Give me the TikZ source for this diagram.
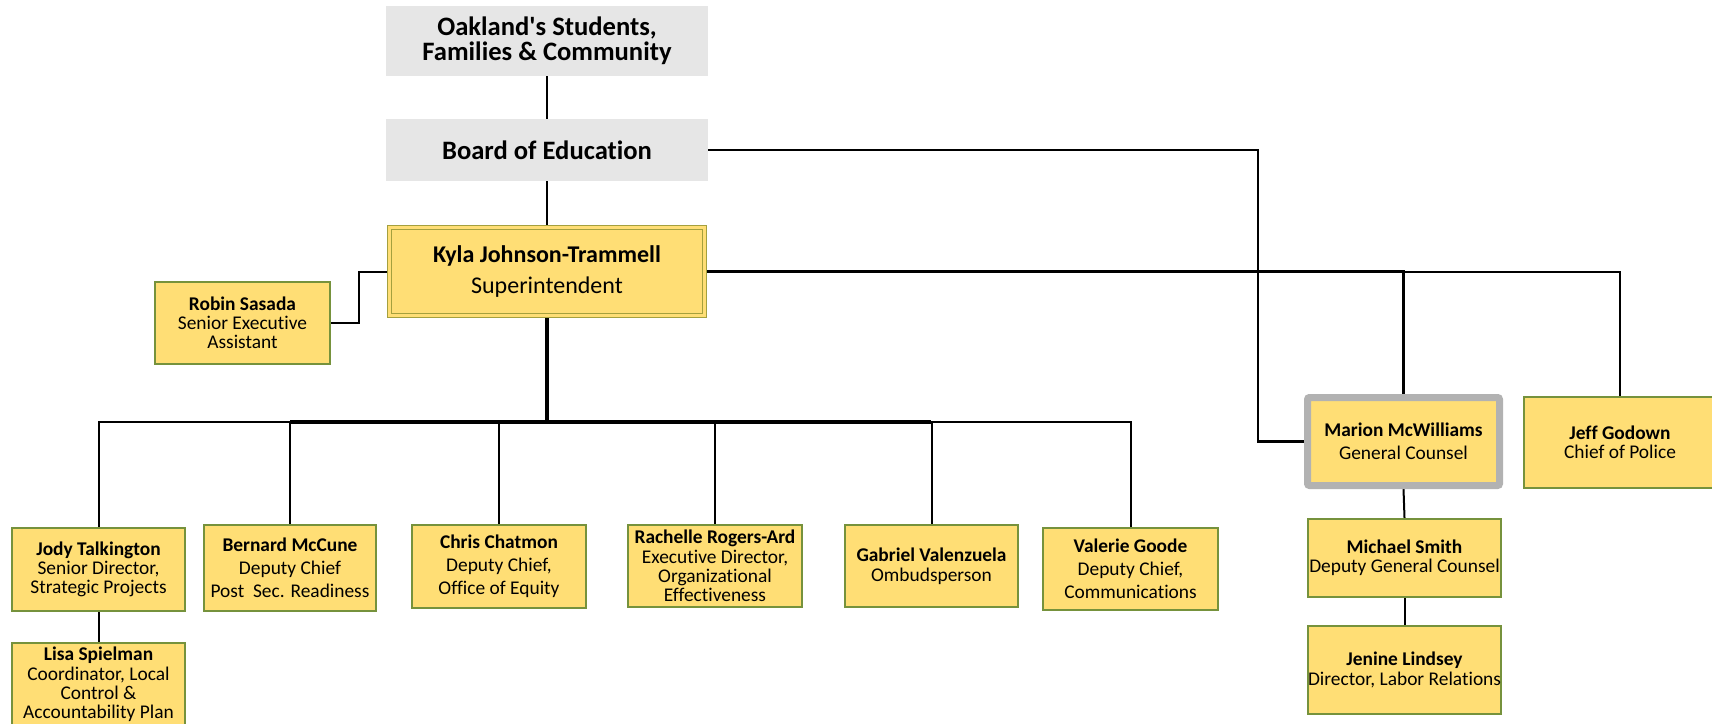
\documentclass[tikz,border=0pt]{standalone}
\usepackage{fontspec}
\setmainfont{Carlito}[Ligatures={TeXOff,NoCommon}]
\usetikzlibrary{calc,backgrounds}
\definecolor{boxfill}{RGB}{255,222,117}
\definecolor{boxline}{RGB}{118,146,60}
\definecolor{hdrfill}{RGB}{230,230,230}
\definecolor{supline}{RGB}{165,160,62}
\definecolor{gcline}{RGB}{178,178,178}
\begin{document}
\begin{tikzpicture}[x=0.5pt,y=-0.5pt,
  hdr/.style={fill=hdrfill, inner sep=0pt, align=center, font=\fontsize{13.3}{12.5}\selectfont\bfseries},
  pbox/.style={fill=boxfill, draw=boxline, line width=1pt, inner sep=0pt, align=center, font=\fontsize{9.7}{9.6}\selectfont},
  supbox/.style={fill=boxfill, draw=supline, line width=0.5pt, double=boxfill, double distance=1.5pt, inner sep=0pt, align=center, font=\fontsize{12}{14.5}\selectfont},
  gcbox/.style={fill=boxfill, draw=gcline, line width=3.5pt, rounded corners=1pt, inner sep=0pt, align=center, font=\fontsize{9.7}{11.5}\selectfont},
  conn/.style={draw=black, line width=1pt},
  thickconn/.style={draw=black, line width=1.75pt},
]
\useasboundingbox (0,0) rectangle (1712,723);

% header boxes
\node[hdr, minimum width=161pt, minimum height=35pt] (oak) at (547,41) {Oakland's Students,\\Families \& Community};
\node[hdr, minimum width=161pt, minimum height=31pt] (board) at (547,150) {Board of Education};

% superintendent
\node[supbox, minimum width=157.5pt, minimum height=44pt] (supt) at (547,271.5) {\textbf{Kyla Johnson-Trammell}\\\raisebox{-1pt}{Superintendent}};

% assistant
\node[pbox, minimum width=87.5pt, minimum height=41pt] (robin) at (242.5,323) {\textbf{Robin Sasada}\\Senior Executive\\Assistant};

% direct reports row
\node[pbox, minimum width=86.5pt, minimum height=41.5pt] (jody) at (98.5,569.5) {\textbf{Jody Talkington}\\Senior Director,\\Strategic Projects};
\node[pbox, minimum width=86pt, minimum height=43pt] (bernard) at (290,568) {\textbf{Bernard McCune}\\[2pt]Deputy Chief\\[2pt]Post\ \ Sec. Readiness};
\node[pbox, minimum width=87pt, minimum height=41.5pt] (chris) at (499,566.5) {\textbf{Chris Chatmon}\\[1.8pt]Deputy Chief,\\[1.8pt]Office of Equity};
\node[pbox, minimum width=87pt, minimum height=41pt] (rachelle) at (715,566) {\textbf{Rachelle Rogers-Ard}\\Executive Director,\\Organizational\\Effectiveness};
\node[pbox, minimum width=86.5pt, minimum height=41pt] (gabriel) at (931.5,566) {\textbf{Gabriel Valenzuela}\\[0.4pt]Ombudsperson};
\node[pbox, minimum width=87.5pt, minimum height=41pt] (valerie) at (1130.5,569) {\textbf{Valerie Goode}\\[1.8pt]Deputy Chief,\\[1.8pt]Communications};

\node[pbox, minimum width=86.5pt, minimum height=41.5pt] (lisa) at (98.5,684.5) {\textbf{Lisa Spielman}\\Coordinator, Local\\Control \&\\Accountability Plan};

% right side
\node[gcbox, minimum width=96pt, minimum height=44pt] (marion) at (1403.5,441.5) {\textbf{Marion McWilliams}\\General Counsel};
\node[pbox, minimum width=96pt, minimum height=45.5pt] (jeff) at (1620,442.5) {\textbf{Jeff Godown}\\Chief of Police};
\node[pbox, minimum width=96.5pt, minimum height=39pt] (michael) at (1404.5,558) {\textbf{Michael Smith}\\Deputy General Counsel};
\node[pbox, minimum width=96.5pt, minimum height=44pt] (jenine) at (1404.5,670) {\textbf{Jenine Lindsey}\\Director, Labor Relations};

\coordinate (bus) at (547,422);
\coordinate (busL) at (290,422);
\coordinate (busR) at (931,422);
\coordinate (bend) at (1258,300);

\begin{scope}[on background layer]
  \draw[conn] (oak.south) -- (board.north);
  \draw[conn] (board.south) -- (supt.north);
  \draw[conn, line width=1.2pt] (board.east) -| (bend) |- (marion.west);
  \draw[thickconn, line width=1.5pt] (supt.east) -- (supt.east -| bend);
  \draw[conn, line width=1.2pt] (supt.east -| bend) -- (supt.east -| marion.north) -- (marion.north);
  \draw[conn] (supt.east -| marion.north) -| (jeff.north);
  \draw[conn] (robin.east) -- ++(28,0) |- (supt.west);
  \draw[thickconn] (supt.south) -- (bus);
  \draw[thickconn] (busL) -- (busR);
  \draw[conn] (jody.north) |- (busL);
  \draw[conn] (busR) -| (valerie.north);
  \draw[conn] (bernard.north) -- (bernard.north |- bus);
  \draw[conn] (chris.north) -- (chris.north |- bus);
  \draw[conn] (rachelle.north) -- (rachelle.north |- bus);
  \draw[conn] (gabriel.north) -- (gabriel.north |- bus);
  \draw[conn] (jody.south) -- (lisa.north);
  \draw[conn] (marion.south) -- (michael.north);
  \draw[conn] (michael.south) -- (jenine.north);
\end{scope}
\end{tikzpicture}
\end{document}
